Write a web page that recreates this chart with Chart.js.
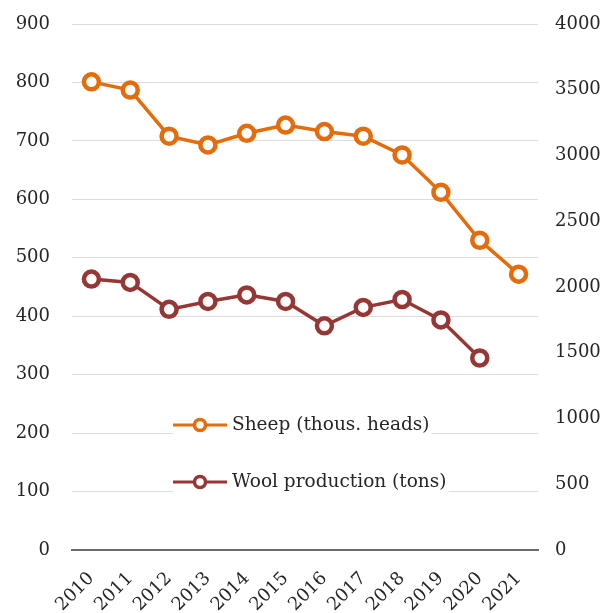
<!DOCTYPE html>
<html><head><meta charset="utf-8">
<script src="https://cdn.jsdelivr.net/npm/chart.js@4/dist/chart.umd.min.js"></script>
<style>html,body{margin:0;padding:0;background:#fff}#wrap{width:604px;height:613px;position:relative}</style>
</head><body><div id="wrap"><canvas id="c"></canvas></div>
<script>
const years = ['2010','2011','2012','2013','2014','2015','2016','2017','2018','2019','2020','2021'];
const sheep = [801, 787, 708, 693, 713, 727, 716, 708, 676, 612, 530, 472];
const wool  = [2060, 2035, 1830, 1890, 1940, 1890, 1705, 1845, 1905, 1750, 1460, null];
const seriesNames = ['Sheep (thous. heads)', 'Wool production (tons)'];
const leftAxis = {min: 0, max: 900, step: 100};
const rightAxis = {min: 0, max: 4000, step: 500};

const ORANGE = '#E46C0A';
const DARKRED = '#953735';
const FONT = 'DejaVu Serif';
const TXT = '#262626';

const legendPlugin = {
  id: 'inlineLegend',
  afterDatasetsDraw(chart) {
    const ctx = chart.ctx;
    const items = [
      {label: seriesNames[0], color: ORANGE, y: 425},
      {label: seriesNames[1], color: DARKRED, y: 482}
    ];
    ctx.save();
    ctx.font = '18.5px "' + FONT + '"';
    items.forEach(it => {
      const x0 = 173, x1 = 227, tx = 232;
      const w = ctx.measureText(it.label).width;
      ctx.fillStyle = '#fff';
      ctx.fillRect(x0, it.y - 11, tx - x0 + w + 2, 22);
      ctx.strokeStyle = it.color;
      ctx.lineWidth = 3;
      ctx.beginPath(); ctx.moveTo(x0, it.y); ctx.lineTo(x1, it.y); ctx.stroke();
      ctx.beginPath(); ctx.arc((x0 + x1) / 2, it.y, 5.5, 0, Math.PI * 2);
      ctx.fillStyle = '#fff'; ctx.fill();
      ctx.lineWidth = 3.5; ctx.stroke();
      ctx.fillStyle = TXT;
      ctx.textBaseline = 'middle';
      ctx.textAlign = 'left';
      ctx.fillText(it.label, tx, it.y);
    });
    ctx.restore();
  }
};

new Chart(document.getElementById('c'), {
  type: 'line',
  data: {
    labels: years,
    datasets: [
      {label: seriesNames[0], data: sheep, yAxisID: 'y', borderColor: ORANGE, backgroundColor: '#fff',
       borderWidth: 3.5, pointRadius: 7.5, pointBorderWidth: 4.5, pointBackgroundColor: '#fff', pointBorderColor: ORANGE, tension: 0},
      {label: seriesNames[1], data: wool, yAxisID: 'y2', borderColor: DARKRED, backgroundColor: '#fff',
       borderWidth: 3.5, pointRadius: 7.5, pointBorderWidth: 4.5, pointBackgroundColor: '#fff', pointBorderColor: DARKRED, tension: 0}
    ]
  },
  options: {
    responsive: true,
    maintainAspectRatio: false,
    animation: false,
    layout: {padding: {top: 24, left: 0, right: 0, bottom: 0}},
    plugins: {legend: {display: false}, tooltip: {enabled: false}},
    scales: {
      x: {
        offset: true,
        grid: {display: false, drawTicks: false},
        border: {display: true, color: '#6b6b6b', width: 2},
        ticks: {color: TXT, font: {family: FONT, size: 18}, minRotation: 45, maxRotation: 45, padding: 18, autoSkip: false},
        afterFit(s) { s.height = 63; }
      },
      y: {
        position: 'left',
        min: leftAxis.min, max: leftAxis.max,
        grid: {color: '#dcdcdc', lineWidth: 1, drawTicks: true, tickLength: 22, tickColor: 'rgba(0,0,0,0)'},
        border: {display: false},
        ticks: {stepSize: leftAxis.step, color: TXT, font: {family: FONT, size: 18}, padding: 0},
        afterFit(s) { s.width = 72; }
      },
      y2: {
        position: 'right',
        min: rightAxis.min, max: rightAxis.max,
        grid: {display: true, drawOnChartArea: false, drawTicks: true, tickLength: 17, tickColor: 'rgba(0,0,0,0)'},
        border: {display: false},
        ticks: {stepSize: rightAxis.step, color: TXT, font: {family: FONT, size: 18}, padding: 0,
                callback: v => String(v)},
        afterFit(s) { s.width = 66; }
      }
    }
  },
  plugins: [legendPlugin]
});
</script>
</body></html>
